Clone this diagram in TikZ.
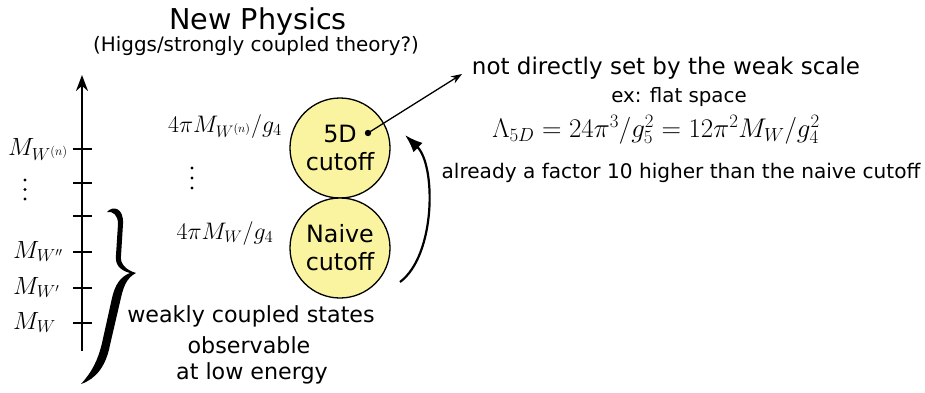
\RequirePackage{fix-cm}
\documentclass[tikz,border=0pt]{standalone}
\usepackage{fontspec}
\setmainfont{DejaVu Sans}
\usetikzlibrary{arrows.meta}
\definecolor{cyel}{RGB}{250,244,160}
\tikzset{
  txt/.style={inner sep=0pt, anchor=base, font=\fontsize{22.2}{26}\selectfont},
  mth/.style={inner sep=0pt, font=\fontsize{24.9}{29}\selectfont},
  circ/.style={circle, draw=black, line width=1.3pt, fill=cyel, minimum size=100pt, inner sep=0pt, align=center, font=\fontsize{23.8}{28}\selectfont},
  tick/.style={line width=1.6pt},
  dotmark/.style={fill=black},
}
\begin{document}
\begin{tikzpicture}[x=1pt,y=-1pt]
\useasboundingbox (0,0) rectangle (925,392);
% title
\node[txt, font=\fontsize{28.7}{34}\selectfont] (title) at (258,29) {New Physics};
\node[txt, font=\fontsize{19.9}{24}\selectfont] (sub) at (256,51) {(Higgs/strongly coupled theory?)};
% axis
\coordinate (axb) at (82,351);
\coordinate (axt) at (82,75);
\draw[line width=2.4pt, -{Stealth[length=16pt,width=12pt]}] (axb) -- (axt);
\foreach \yy/\nm in {149/t6,183/t5,216/t4,252/t3,288/t2,323/t1}{
  \coordinate (\nm l) at (73,\yy);
  \coordinate (\nm r) at (92,\yy);
  \draw[tick] (\nm l) -- (\nm r);
}
\node[mth, anchor=base west] (l6) at (8,155) {$M_{W^{(n)}}$};
\foreach \yy in {180,189.5,199}{\fill[dotmark] (25,\yy) circle (1.6);}
\node[mth, anchor=base west] (l3) at (13,258) {$M_{W''}$};
\node[mth, anchor=base west] (l2) at (13,294) {$M_{W'}$};
\node[mth, anchor=base west] (l1) at (13,329) {$M_W$};
% brace
\fill (107,212) .. controls (113,205) and (124,208) .. (123,224)
  -- (121,256) .. controls (120,264) and (126,270) .. (136,273)
  .. controls (126,278) and (123,288) .. (120,302)
  -- (110,345) .. controls (106,366) and (96,379) .. (81,384)
  .. controls (92,372) and (98,360) .. (102,343)
  -- (112,298) .. controls (115,285) and (120,277) .. (130,273)
  .. controls (119,270) and (115,264) .. (116,255)
  -- (118,224) .. controls (118,215) and (113,211) .. (107,212) -- cycle;
% weakly coupled text
\node[txt] (w1) at (251,322) {weakly coupled states};
\node[txt] (w2) at (249,353) {observable};
\node[txt] (w3) at (252,379) {at low energy};
% circles
\node[circ] (c5) at (340,148) {5D\\cutoff};
\node[circ] (cn) at (340,248) {Naive\\cutoff};
% math labels
\node[mth, anchor=base, font=\fontsize{23.9}{28}\selectfont] (m6) at (225,132) {$4\pi M_{W^{(n)}}/g_4$};
\foreach \yy in {168,178,188}{\fill[dotmark] (192,\yy) circle (1.6);}
\node[mth, anchor=base, font=\fontsize{23.9}{28}\selectfont] (m1) at (225,239) {$4\pi M_W/g_4$};
% dot and arrow
\coordinate (dot) at (368,133);
\coordinate (nd) at (462,74);
\fill (dot) circle (3.2);
\draw[line width=1.3pt, -{Stealth[length=11pt,width=8pt]}] (dot) -- (nd);
% curved arrow
\coordinate (cs) at (400,282);
\coordinate (ce) at (405,135);
\draw[line width=2.2pt, -{Latex[length=18pt,width=13pt]}] (cs) .. controls (436,255) and (436,165) .. (ce);
% right text
\node[txt, font=\fontsize{23}{27}\selectfont] (r1) at (666,74) {not directly set by the weak scale};
\node[txt, font=\fontsize{19.8}{24}\selectfont] (r2) at (679,102) {ex: flat space};
\node[mth, anchor=base, font=\fontsize{27}{31}\selectfont] (r3) at (656,137) {$\Lambda_{5D}=24\pi^3/g_5^2=12\pi^2M_W/g_4^2$};
\node[txt, font=\fontsize{20.1}{24}\selectfont] (r4) at (681,178) {already a factor 10 higher than the naive cutoff};
\end{tikzpicture}
\end{document}
